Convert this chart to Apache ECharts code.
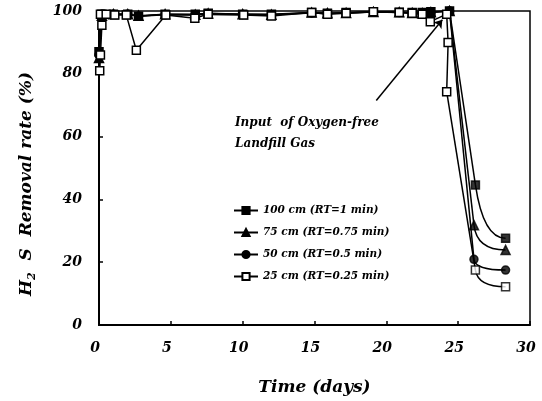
<!DOCTYPE html>
<html>
<head>
<meta charset="utf-8">
<script src="https://cdn.jsdelivr.net/npm/echarts@6/dist/echarts.min.js"></script>
<style>
  html, body { margin: 0; padding: 0; background: #fff; }
  #chart { width: 542px; height: 401px; }
</style>
</head>
<body>
<div id="chart"></div>
<script>
// Sampling days and H2S removal rate (%) for each bed height
const days100 = [0, 0.2, 1, 2, 2.75, 4.6, 6.7, 7.6, 10, 12, 14.8, 15.9, 17.2, 19.1, 20.9, 21.8, 22.5, 23.1, 24.4, 26.2, 28.3];
const rate100 = [87, 99, 99, 99, 98.3, 99, 99, 99.3, 99, 99, 99.5, 99.3, 99.5, 99.8, 99.6, 99.5, 99.5, 99.8, 100, 44.6, 27.6];

const days75 = [0, 0.2, 1, 2, 2.75, 4.6, 6.7, 7.6, 10, 12, 14.8, 15.9, 17.2, 19.1, 20.9, 21.8, 22.5, 23.1, 24.4, 26.1, 28.3];
const rate75 = [85, 98.5, 99, 99, 98.5, 99, 98.8, 99.2, 99, 98.8, 99.5, 99.3, 99.4, 99.7, 99.6, 99.4, 99.3, 99.6, 100, 31.8, 23.9];

const days50 = [0, 0.2, 1, 2, 2.75, 4.6, 6.7, 7.6, 10, 12, 14.8, 15.9, 17.2, 19.1, 20.9, 21.8, 22.5, 23.1, 24.4, 26.1, 28.3];
const rate50 = [86, 99, 99, 99, 98.3, 98.8, 98.7, 99, 98.9, 98.8, 99.4, 99.2, 99.4, 99.7, 99.5, 99.4, 99.3, 99.5, 100, 20.9, 17.5];

const days25 = [0.05, 0.1, 0.2, 0.1, 0.5, 1.1, 1.9, 2.6, 4.65, 6.67, 7.6, 10.07, 12.0, 14.8, 15.9, 17.2, 19.1, 20.9, 21.8, 22.5, 23.06, 24.2, 24.3, 24.2, 26.2, 28.3];
const rate25 = [81, 86, 95.5, 99, 99, 98.7, 98.7, 87.5, 98.7, 97.7, 99, 98.7, 98.4, 99.5, 99, 99.3, 99.8, 99.5, 99.3, 99, 96.6, 99, 90, 74.3, 17.5, 12.2];

const seriesNames = ['100 cm (RT=1 min)', '75 cm (RT=0.75 min)', '50 cm (RT=0.5 min)', '25 cm (RT=0.25 min)'];
const xTicks = [0, 5, 10, 15, 20, 25, 30];
const yTicks = [0, 20, 40, 60, 80, 100];

// Arrow pointing at the switch to oxygen-free landfill gas (day, %)
const arrowFrom = [19.3, 71.5];
const arrowTo = [23.9, 97.2];
const noteLines = ['Input  of Oxygen-free', 'Landfill Gas'];

const FONT = '"DejaVu Serif", "Liberation Serif", serif';
const TAIL = 3; // last points drawn as the decay curve

function pairs(xs, ys) { return xs.map((x, i) => [x, ys[i]]); }

// Decay tail: straight drop to the first low point, then a curve that
// levels off into the final point (quadratic bend, computed in pixel space).
function tailRenderer(pts) {
  return function (params, api) {
    const i = params.dataIndex;
    if (i === 0) return null;
    const a = api.coord(pts[i - 1]);
    const b = api.coord(pts[i]);
    const style = { stroke: '#000', lineWidth: 1.5, fill: null };
    if (i === 1) {
      return { type: 'line', shape: { x1: a[0], y1: a[1], x2: b[0], y2: b[1] }, style: style, silent: true };
    }
    const p = api.coord(pts[i - 2]);
    const dx = a[0] - p[0], dy = a[1] - p[1];
    const t = dy !== 0 ? (b[1] - a[1]) / dy : 0;
    const cx = a[0] + dx * Math.max(0, t);
    const cy = b[1];
    return {
      type: 'bezierCurve',
      shape: { x1: a[0], y1: a[1], x2: b[0], y2: b[1], cpx1: cx, cpy1: cy },
      style: style,
      silent: true
    };
  };
}

function makeSeries(name, xs, ys, symbol, fill, z) {
  const all = pairs(xs, ys);
  const cut = all.length - TAIL;
  const tail = all.slice(cut);
  const symbolSize = symbol === 'triangle' ? 9 : 8;
  const itemStyle = { color: fill, borderColor: '#000', borderWidth: 1.5 };
  return [
    {
      name: name,
      type: 'line',
      data: all.slice(0, cut + 1),
      symbol: symbol,
      symbolSize: symbolSize,
      z: z,
      itemStyle: itemStyle,
      lineStyle: { color: '#000', width: 1.5 },
      emphasis: { disabled: true },
      animation: false
    },
    {
      name: name + ' decay',
      type: 'custom',
      data: tail,
      z: z,
      renderItem: tailRenderer(tail),
      animation: false
    },
    {
      name: name + ' decay points',
      type: 'scatter',
      data: all.slice(cut + 1),
      symbol: symbol,
      symbolSize: symbolSize,
      z: z + 0.5,
      itemStyle: itemStyle,
      emphasis: { disabled: true },
      animation: false
    }
  ];
}

const series = [].concat(
  makeSeries(seriesNames[0], days100, rate100, 'rect', '#000', 2),
  makeSeries(seriesNames[1], days75, rate75, 'triangle', '#000', 3),
  makeSeries(seriesNames[2], days50, rate50, 'circle', '#000', 4),
  makeSeries(seriesNames[3], days25, rate25, 'rect', '#fff', 5)
);

series[0].markLine = {
  silent: true,
  animation: false,
  symbol: ['none', 'arrow'],
  symbolSize: 8,
  label: { show: false },
  lineStyle: { color: '#000', width: 1.5, type: 'solid' },
  data: [[{ coord: arrowFrom }, { coord: arrowTo }]]
};

const chart = echarts.init(document.getElementById('chart'), null, { renderer: 'canvas' });
chart.setOption({
  backgroundColor: '#fff',
  animation: false,
  grid: { left: 99, right: 12, top: 11, bottom: 76, show: true, borderColor: '#000', borderWidth: 1.5 },
  xAxis: {
    type: 'value',
    min: xTicks[0],
    max: xTicks[xTicks.length - 1],
    interval: 5,
    name: 'Time (days)',
    nameLocation: 'middle',
    nameGap: 54,
    nameTextStyle: { fontFamily: FONT, fontStyle: 'italic', fontWeight: 'bold', fontSize: 17, color: '#000' },
    axisLine: { lineStyle: { color: '#000', width: 2 } },
    axisTick: { inside: true, length: 4, lineStyle: { color: '#000', width: 1.5 } },
    axisLabel: { margin: 16, padding: [0, 8, 0, 0], fontFamily: FONT, fontStyle: 'italic', fontWeight: 'bold', fontSize: 14, color: '#000' },
    splitLine: { show: false }
  },
  yAxis: {
    type: 'value',
    min: yTicks[0],
    max: yTicks[yTicks.length - 1],
    interval: 20,
    axisLine: { lineStyle: { color: '#000', width: 2 } },
    axisTick: { inside: true, length: 4, lineStyle: { color: '#000', width: 1.5 } },
    axisLabel: { margin: 17, fontFamily: FONT, fontStyle: 'italic', fontWeight: 'bold', fontSize: 14, color: '#000' },
    splitLine: { show: false }
  },
  legend: {
    data: seriesNames,
    orient: 'vertical',
    left: 228,
    top: 200,
    itemWidth: 24,
    itemHeight: 9,
    itemGap: 11,
    selectedMode: false,
    textStyle: { fontFamily: FONT, fontStyle: 'italic', fontWeight: 'bold', fontSize: 10.5, color: '#000' }
  },
  graphic: [
    {
      type: 'text',
      x: 27,
      y: 184,
      rotation: Math.PI / 2,
      silent: true,
      style: {
        text: '{m|H}{s|2}{m|  S  Removal rate (%)}',
        align: 'center',
        verticalAlign: 'middle',
        rich: {
          m: { fontFamily: FONT, fontStyle: 'italic', fontWeight: 'bold', fontSize: 17, fill: '#000', lineHeight: 22 },
          s: { fontFamily: FONT, fontStyle: 'italic', fontWeight: 'bold', fontSize: 11, fill: '#000', lineHeight: 22, verticalAlign: 'bottom' }
        }
      }
    },
    {
      type: 'text',
      left: 235,
      top: 112,
      silent: true,
      style: {
        text: noteLines.join('\n'),
        font: 'italic bold 12px ' + FONT,
        fill: '#000',
        lineHeight: 21
      }
    }
  ],
  series: series
});
</script>
</body>
</html>
